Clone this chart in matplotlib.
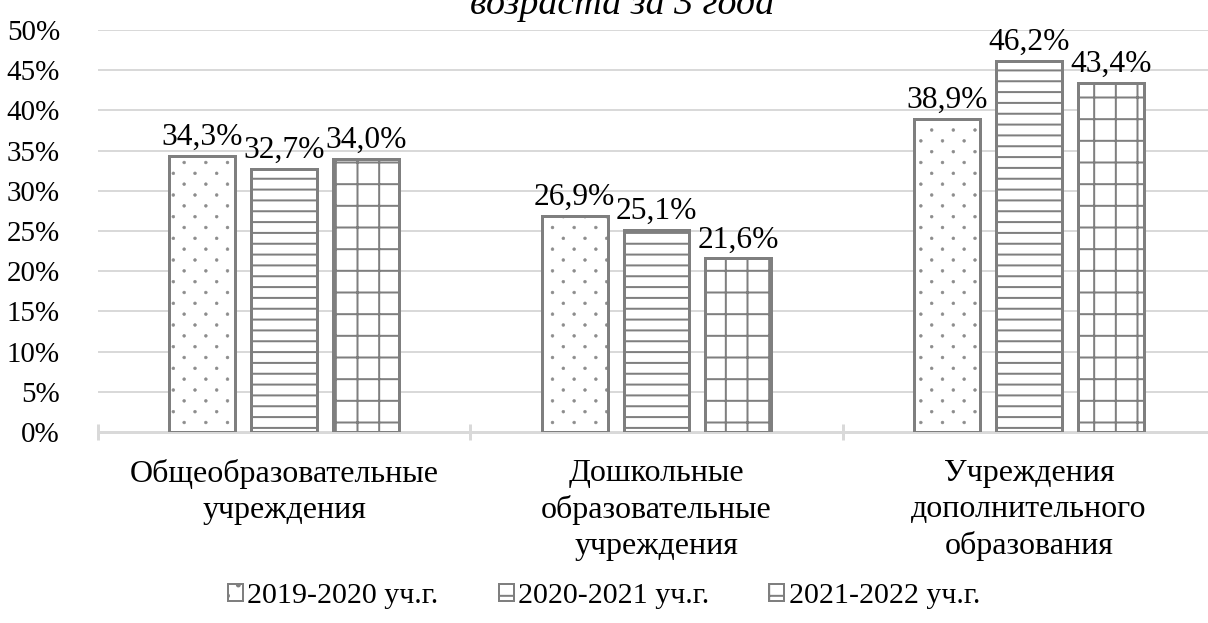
import warnings

import matplotlib
matplotlib.use('Agg')
import matplotlib.hatch as mhatch
import matplotlib.pyplot as plt
from matplotlib.patches import Patch
from matplotlib.path import Path
import numpy as np

warnings.filterwarnings('ignore')
plt.rcParams['font.family'] = ['Liberation Serif', 'DejaVu Serif']

DPI = 130


def px(v):
    """пиксели -> пункты"""
    return v * 72 / DPI


class SparseDots(mhatch.HatchPatternBase):
    """Точечная штриховка: ряды через 1/12, точки в ряду через 1/6 со сдвигом"""

    def __init__(self, hatch, density):
        rows = hatch.count(':') * density * 2
        circle = Path.unit_circle()
        self.shape_vertices = circle.vertices * 0.011
        self.shape_codes = circle.codes
        self.points = []
        for r in range(rows + 1 if rows else 0):
            start = 0.0 if r % 2 == 0 else 1.0 / rows
            for xp in np.arange(start, 1.0 + 1e-9, 2.0 / rows):
                self.points.append((xp, r / rows))
        self.num_vertices = len(self.points) * len(self.shape_vertices)

    def set_vertices_and_codes(self, vertices, codes):
        n = len(self.shape_vertices)
        for k, (xp, yp) in enumerate(self.points):
            vertices[k * n:(k + 1) * n] = self.shape_vertices + [xp, yp]
            codes[k * n:(k + 1) * n] = self.shape_codes


mhatch._hatch_types.append(SparseDots)

# данные
categories = ['Общеобразовательные\nучреждения',
              'Дошкольные\nобразовательные\nучреждения',
              'Учреждения\nдополнительного\nобразования']
series = ['2019-2020 уч.г.', '2020-2021 уч.г.', '2021-2022 уч.г.']
v2019 = [34.3, 26.9, 38.9]
v2020 = [32.7, 25.1, 46.2]
v2021 = [34.0, 21.6, 43.4]
values = [v2019, v2020, v2021]
hatches = [':', '--', '+']
legend_hatches = [':', '-', '+']
hatch_colors = ['#8c8c8c', '#7f7f7f', '#7f7f7f']
hatch_widths = [0.5, 2.0, 2.0]
yticks = [0, 5, 10, 15, 20, 25, 30, 35, 40, 45, 50]

fig = plt.figure(figsize=(1208 / DPI, 623 / DPI), dpi=DPI)
# область графика
ax = fig.add_axes([98 / 1208, 1 - 432 / 623, 1117 / 1208, 402 / 623])

x = np.arange(len(categories))
width = 0.177
step = 0.22
edge = '#7f7f7f'

handles = []
for i, vals in enumerate(values):
    pos = x + (i - 1) * step
    # штриховка отдельно, чтобы задать её цвет
    plt.rcParams['hatch.linewidth'] = px(hatch_widths[i])
    ax.bar(pos, vals, width, color='white', edgecolor=hatch_colors[i],
           hatch=hatches[i], linewidth=0, zorder=3)
    bars = ax.bar(pos, vals, width, color='none', edgecolor=edge,
                  linewidth=px(3), zorder=4)
    handles.append(Patch(facecolor='white', edgecolor=edge,
                         hatch=legend_hatches[i],
                         linewidth=px(2), label=series[i]))
    for b, v in zip(bars, vals):
        ax.annotate(f'{v:.1f}%'.replace('.', ','),
                    (b.get_x() + b.get_width() / 2, v),
                    xytext=(0, px(4)), textcoords='offset points',
                    ha='center', va='bottom', fontsize=px(31.5))

ax.set_xlim(-0.5, 2.5)
ax.set_ylim(0, 50)
ax.set_yticks(yticks)
ax.set_yticklabels([f'{t}%' for t in yticks], fontsize=px(29))
ax.yaxis.grid(True, color='#d9d9d9', linewidth=px(2), zorder=0)
ax.tick_params(axis='y', length=0, pad=px(38))
for s in ['top', 'right', 'left']:
    ax.spines[s].set_visible(False)
ax.spines['bottom'].set_color('#d9d9d9')
ax.spines['bottom'].set_linewidth(px(3))

# разделители категорий
ax.set_xticks([-0.5, 0.5, 1.5, 2.5])
ax.set_xticklabels([])
ax.tick_params(axis='x', direction='inout', length=px(16), width=px(3),
               color='#d9d9d9')
for xi, c in zip(x, categories):
    ax.text(xi, -3.3, c, ha='center', va='top', fontsize=px(32),
            linespacing=1.32)

fig.text(622 / 1208, 1 - 14 / 623, 'возраста за 3 года', ha='center',
         va='baseline', fontsize=px(38), style='italic')

fig.legend(handles=handles, loc='center', bbox_to_anchor=(0.5, 1 - 596 / 623),
           ncol=3, frameon=False, fontsize=px(30), handlelength=0.5,
           handleheight=0.5, handletextpad=0.15, columnspacing=2.0)

fig.savefig('out.png', dpi=DPI)
